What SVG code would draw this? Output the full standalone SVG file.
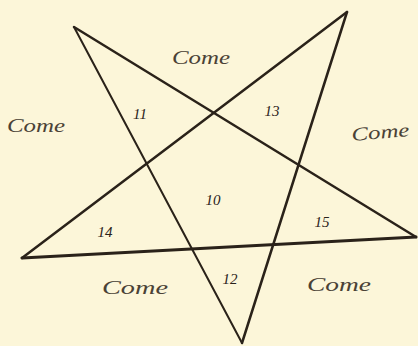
<svg xmlns="http://www.w3.org/2000/svg" width="418" height="346" viewBox="0 0 418 346">
<style>
.bg{fill:#fcf6d9}
.ln{stroke:#2a2219;fill:none;stroke-linecap:round}
.w{font-family:"Liberation Serif",serif;font-style:italic;font-size:19px;fill:#4a4236}
.n{font-family:"Liberation Serif",serif;font-style:italic;font-size:15px;fill:#2a2219;text-anchor:middle}
</style>
<rect class="bg" x="0" y="0" width="418" height="346"/>
<g id="connectors">
<line class="ln" x1="74" y1="27" x2="242" y2="343" stroke-width="2"/>
<line class="ln" x1="242" y1="343" x2="347" y2="12" stroke-width="2.5"/>
<line class="ln" x1="347" y1="12" x2="22" y2="258" stroke-width="2.5"/>
<line class="ln" x1="22" y1="258" x2="416" y2="237" stroke-width="3"/>
<line class="ln" x1="416" y1="237" x2="74" y2="27" stroke-width="2.5"/>
</g>
<g id="come-top"><text class="w" x="172" y="64" textLength="58" lengthAdjust="spacingAndGlyphs">Come</text></g>
<g id="come-left"><text class="w" x="7" y="132" textLength="58" lengthAdjust="spacingAndGlyphs">Come</text></g>
<g id="come-right"><text class="w" x="352" y="141" textLength="58" lengthAdjust="spacingAndGlyphs" transform="rotate(-5 352 141)">Come</text></g>
<g id="come-bottom-left"><text class="w" x="102" y="294" textLength="66" lengthAdjust="spacingAndGlyphs">Come</text></g>
<g id="come-bottom-right"><text class="w" x="307" y="291" textLength="64" lengthAdjust="spacingAndGlyphs">Come</text></g>
<g id="n11"><text class="n" x="140" y="119">11</text></g>
<g id="n13"><text class="n" x="272" y="116">13</text></g>
<g id="n10"><text class="n" x="213" y="205">10</text></g>
<g id="n14"><text class="n" x="105" y="237">14</text></g>
<g id="n15"><text class="n" x="322" y="227">15</text></g>
<g id="n12"><text class="n" x="230" y="284">12</text></g>
</svg>
